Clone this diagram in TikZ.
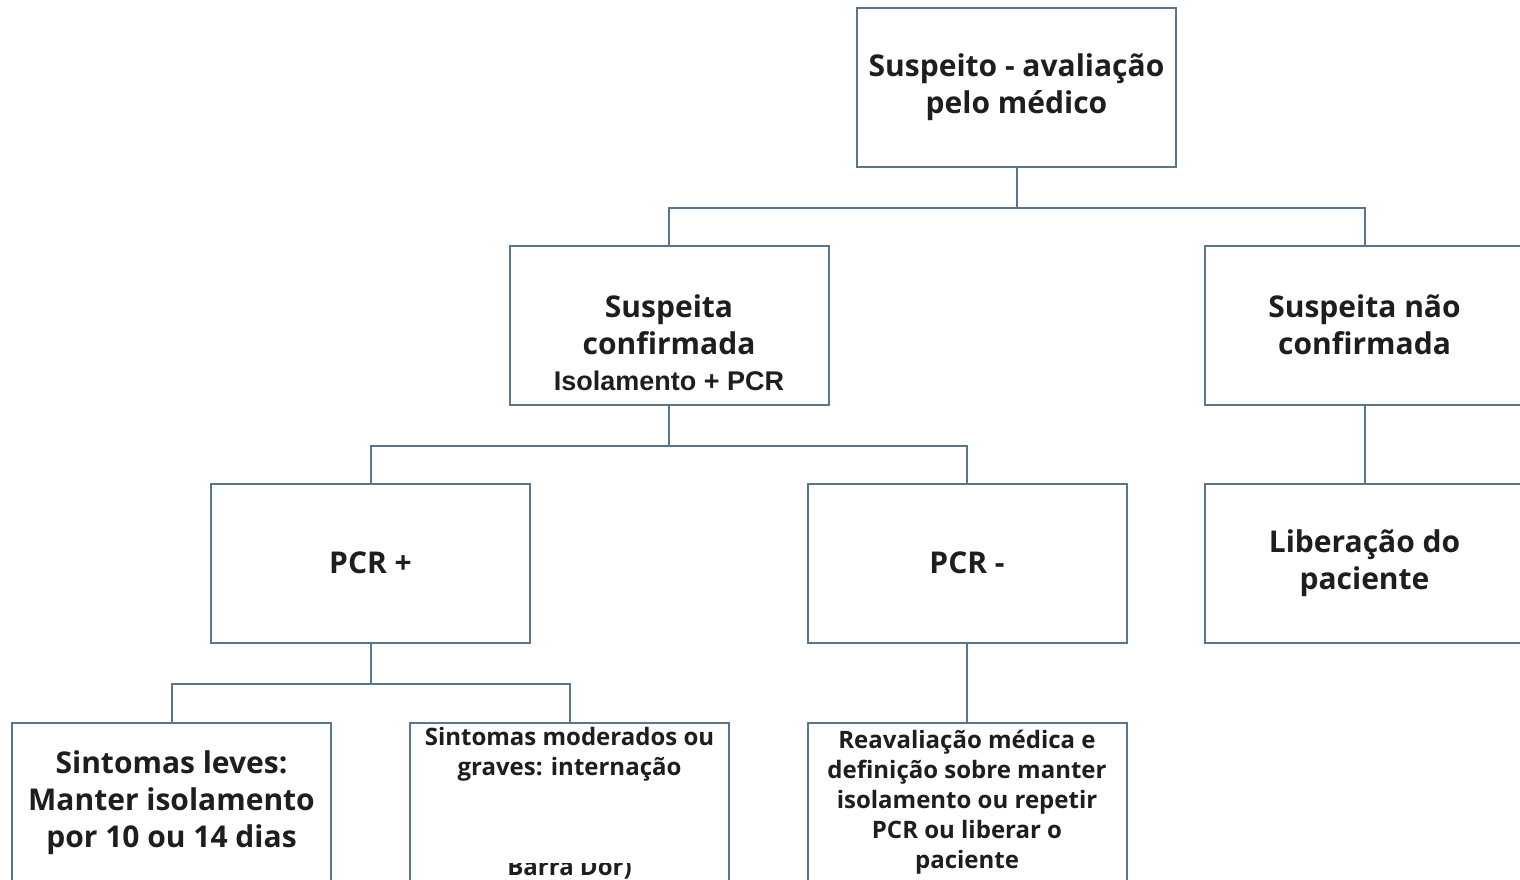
\documentclass[tikz,border=0pt]{standalone}
\usepackage{fontspec}
\setmainfont{Open Sans}
\newfontfamily\arialfont{Liberation Sans}
\usetikzlibrary{positioning}
\definecolor{boxline}{RGB}{88,118,140}
\definecolor{boxtext}{RGB}{30,30,30}

\begin{document}
\begin{tikzpicture}[%
	x=1pt, y=-1pt,                    % one unit per pixel, y going down
	every node/.style={font=\bfseries, text=boxtext},
	node distance=238pt and 298pt,    % Global setup of box spacing
	]
	% -------------------------------------------------
	% Box and connector styles
	\tikzset{
		base/.style={draw=boxline, line width=2pt, fill=white, on grid, align=center,
			minimum width=319pt, minimum height=159pt, inner sep=0pt},
		big/.style={base, font=\fontsize{30}{37}\selectfont\bfseries},
		small/.style={base, font=\fontsize{24}{30}\selectfont\bfseries},
		% loose text lines placed inside a box
		note/.style={font=\arialfont\fontsize{27}{32}\selectfont\bfseries, inner sep=0pt},
		plain/.style={font=\fontsize{24}{30}\selectfont\bfseries, align=center, inner sep=0pt},
		link/.style={draw=boxline, line width=2pt}
	}
	\useasboundingbox (0,0) rectangle (1520,879);
	\clip (0,0) rectangle (1520,879);
	\fill[white] (0,0) rectangle (1520,879);

	\node[big] at (1016.5,87)                          (susp)    {Suspeito - avaliação\\pelo médico};
	\node[big, below left=238pt and 347.5pt of susp]   (conf)    {Suspeita\\confirmada};
	\node[note, anchor=base] at ([yshift=-65pt]conf.center) (confpcr) {Isolamento + PCR};
	\node[big, below right=238pt and 348pt of susp]    (naoconf) {Suspeita não\\confirmada};

	\node[big, below left=238pt and 298.5pt of conf]   (pcrpos)  {PCR +};
	\node[big, below right=238pt and 298pt of conf]    (pcrneg)  {PCR -};
	\node[big, below=238pt of naoconf]                 (liber)   {Liberação do\\paciente};

	\node[big, below left=239.5pt and 199pt of pcrpos]  (leves)  {Sintomas leves:\\Manter isolamento\\por 10 ou 14 dias};
	\node[base, below right=239.5pt and 199pt of pcrpos] (moder) {};
	\node[plain, anchor=north] at ([yshift=-5pt]moder.north)   (modertxt) {Sintomas moderados ou\\graves: internação};
	\node[plain, anchor=base] at ([yshift=-153pt]moder.north)  (moderend) {Barra Dor)};
	\fill[white] (437,792) rectangle (700,863);
	\node[small, below=239.5pt of pcrneg]              (reav)    {Reavaliação médica e\\definição sobre manter\\isolamento ou repetir\\PCR ou liberar o\\paciente};

	% connectors
	\coordinate[below=40pt of susp.south]   (j1);
	\coordinate[below=40pt of conf.south]   (j2);
	\coordinate[below=40pt of pcrpos.south] (j3);

	\draw[link] (susp.south) -- (j1) -| (conf.north);
	\draw[link] (j1) -| (naoconf.north);
	\draw[link] (conf.south) -- (j2) -| (pcrpos.north);
	\draw[link] (j2) -| (pcrneg.north);
	\draw[link] (naoconf.south) -- (liber.north);
	\draw[link] (pcrpos.south) -- (j3) -| (leves.north);
	\draw[link] (j3) -| (moder.north);
	\draw[link] (pcrneg.south) -- (reav.north);
\end{tikzpicture}
\end{document}
